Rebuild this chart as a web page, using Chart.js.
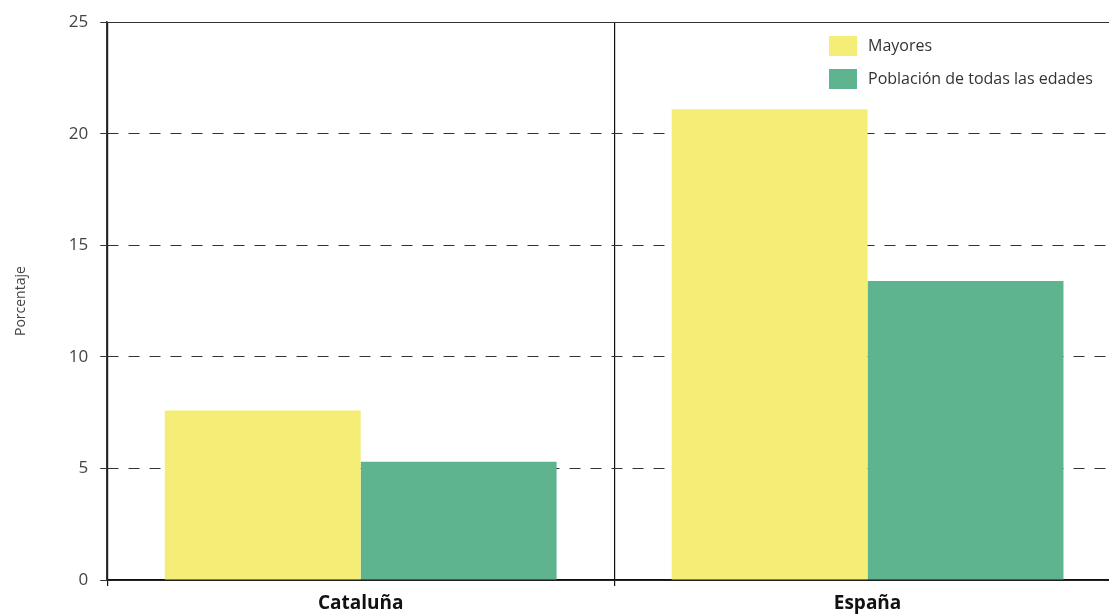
<!DOCTYPE html>
<html>
<head>
<meta charset="utf-8">
<script src="https://cdn.jsdelivr.net/npm/chart.js@4/dist/chart.umd.min.js"></script>
<style>
  html, body { margin: 0; padding: 0; overflow: hidden; background: #fff; }
  #wrap { width: 1125px; height: 614px; }
</style>
</head>
<body>
<div id="wrap"><canvas id="chart"></canvas></div>
<script>
const categories = ['Cataluña', 'España'];
const mayores = [7.6, 21.1];
const poblacion = [5.3, 13.4];
const yTicks = [0, 5, 10, 15, 20, 25];

// legend drawn inside the plot area, top right
const insideLegend = {
    id: 'insideLegend',
    afterDraw(chart) {
        const ctx = chart.ctx;
        ctx.save();
        ctx.font = '16px "Open Sans", sans-serif';
        ctx.textBaseline = 'middle';
        chart.data.datasets.forEach((ds, i) => {
            const y = 36 + i * 33;
            ctx.fillStyle = ds.backgroundColor;
            ctx.fillRect(829, y, 28, 20);
            ctx.fillStyle = '#333';
            ctx.fillText(ds.label, 868, y + 10);
        });
        ctx.restore();
    }
};

new Chart(document.getElementById('chart'), {
    type: 'bar',
    data: {
        labels: categories,
        datasets: [
            {
                label: 'Mayores',
                data: mayores,
                backgroundColor: '#f5ee76',
                categoryPercentage: 0.773,
                barPercentage: 1
            },
            {
                label: 'Población de todas las edades',
                data: poblacion,
                backgroundColor: '#5db48f',
                categoryPercentage: 0.773,
                barPercentage: 1
            }
        ]
    },
    options: {
        responsive: true,
        maintainAspectRatio: false,
        animation: false,
        layout: { padding: { top: 15, right: 4, left: 13, bottom: -7 } },
        plugins: {
            legend: { display: false },
            tooltip: { enabled: false }
        },
        scales: {
            x: {
                grid: {
                    offset: true,
                    color: '#111',
                    lineWidth: 1.2,
                    tickLength: 6
                },
                border: { color: '#111', width: 1.5 },
                ticks: {
                    color: '#111',
                    padding: 8,
                    font: { family: '"Open Sans", sans-serif', size: 19, weight: 'bold', lineHeight: 1 }
                }
            },
            y: {
                min: 0,
                max: 25,
                afterBuildTicks: (scale) => {
                    scale.ticks = yTicks.map(v => ({ value: v }));
                },
                grid: {
                    color: '#333',
                    lineWidth: 1,
                    tickLength: 7,
                    tickBorderDash: []
                },
                border: {
                    color: '#333',
                    width: 1.5,
                    dash: (c) => (c.tick && c.tick.value % 25 !== 0) ? [11, 10] : []
                },
                ticks: {
                    color: '#444',
                    padding: 12,
                    font: { family: '"Open Sans", sans-serif', size: 17 }
                },
                title: {
                    display: true,
                    text: 'Porcentaje',
                    color: '#444',
                    padding: { top: 0, bottom: 27 },
                    font: { family: '"Open Sans", sans-serif', size: 14 }
                }
            }
        }
    },
    plugins: [insideLegend]
});
</script>
</body>
</html>
